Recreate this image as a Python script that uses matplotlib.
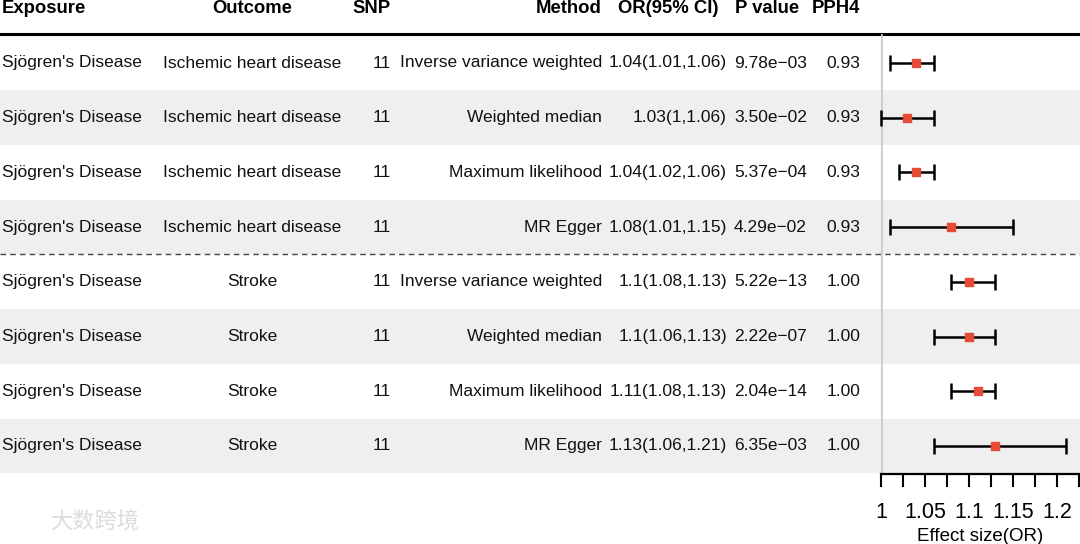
import matplotlib.pyplot as plt
from matplotlib.ticker import MultipleLocator, FormatStrFormatter

plt.rcParams['font.family'] = ['Liberation Sans', 'DejaVu Sans']

# data
exposure = ["Sjögren's Disease"] * 8
outcome = ["Ischemic heart disease"] * 4 + ["Stroke"] * 4
snp = [11] * 8
method = ["Inverse variance weighted", "Weighted median", "Maximum likelihood", "MR Egger"] * 2
or_val = [1.04, 1.03, 1.04, 1.08, 1.10, 1.10, 1.11, 1.13]
or_lo = [1.01, 1.00, 1.02, 1.01, 1.08, 1.06, 1.08, 1.06]
or_hi = [1.06, 1.06, 1.06, 1.15, 1.13, 1.13, 1.13, 1.21]
pval = [9.78e-03, 3.50e-02, 5.37e-04, 4.29e-02, 5.22e-13, 2.22e-07, 2.04e-14, 6.35e-03]
pph4 = [0.93] * 4 + [1.00] * 4
headers = ["Exposure", "Outcome", "SNP", "Method", "OR(95% CI)", "P value", "PPH4"]

W, H = 1080, 544
fig = plt.figure(figsize=(W / 100, H / 100), dpi=100)

# row geometry (pixels from top)
row0, rowh = 63, 54.7
def yrow(p):
    return (p - row0) / rowh

# table layer, x in pixels, y in row units
tab = fig.add_axes([0, 0, 1, 1])
tab.set_xlim(0, W)
tab.set_ylim(yrow(H), yrow(0))
tab.axis('off')

n = len(method)
for i in range(n):
    if i % 2 == 1:
        tab.axhspan(i - 0.5, i + 0.5, color='#efefef', lw=0, zorder=0)

tab.axhline(yrow(34), color='black', lw=2.2, zorder=2)
tab.axhline(3.5, color='#444444', lw=1, ls=(0, (4, 3)), zorder=2)

fs = 12.5
cols = [(2, 'left'), (252, 'center'), (391, 'right'), (602, 'right'),
        (727, 'right'), (734, 'left'), (860, 'right')]
hdr_y = yrow(8.5)
for (x, ha), h in zip(cols, headers):
    if h == "P value":
        x, ha = 735, 'left'
    if h == "OR(95% CI)":
        x = 718
    tab.text(x, hdr_y, h, ha=ha, va='center', fontsize=13.3, fontweight='bold')

for i in range(n):
    ci = f"{or_val[i]:g}({or_lo[i]:g},{or_hi[i]:g})"
    pv = f"{pval[i]:.2e}".replace('-', '\u2212')
    vals = [exposure[i], outcome[i], str(snp[i]), method[i], ci, pv, f"{pph4[i]:.2f}"]
    for (x, ha), v in zip(cols, vals):
        tab.text(x, i, v, ha=ha, va='center', fontsize=fs, color='#111111')

# watermark
tab.text(50, yrow(522), "大数跨境", ha='left', va='center', fontsize=16,
         color='#dcdcdc', family=['Noto Sans CJK SC', 'DejaVu Sans'])

# forest plot
x0, x1 = 881, 1079
top, bot = 34, 474
ax = fig.add_axes([x0 / W, (H - bot) / H, (x1 - x0) / W, (bot - top) / H])
ax.patch.set_alpha(0)
ax.set_xlim(1, 1.225)
ax.set_ylim(yrow(bot), yrow(top))
ax.axvline(1, color='#c8c8c8', lw=1.8, zorder=1)

rows = list(range(n))
ax.errorbar(or_val, rows,
            xerr=[[v - l for v, l in zip(or_val, or_lo)], [h - v for v, h in zip(or_val, or_hi)]],
            fmt='none', ecolor='black', elinewidth=1.8, capsize=5.5, capthick=1.8, zorder=3,
            clip_on=False)
ax.scatter(or_val, rows, marker='s', s=30, color='#e64b35', zorder=4, clip_on=False)

for s in ['top', 'right', 'left']:
    ax.spines[s].set_visible(False)
ax.spines['bottom'].set_linewidth(1.6)
ax.set_yticks([])
ax.xaxis.set_major_locator(MultipleLocator(0.05))
ax.xaxis.set_minor_locator(MultipleLocator(0.025))
ax.xaxis.set_major_formatter(FormatStrFormatter('%g'))
ax.tick_params(axis='x', which='both', length=9.5, width=1.5, direction='out')
ax.tick_params(axis='x', which='major', labelsize=15.5, pad=11)
ax.set_xlabel('Effect size(OR)', fontsize=13.5, labelpad=3)

fig.savefig('out.png', dpi=100)
